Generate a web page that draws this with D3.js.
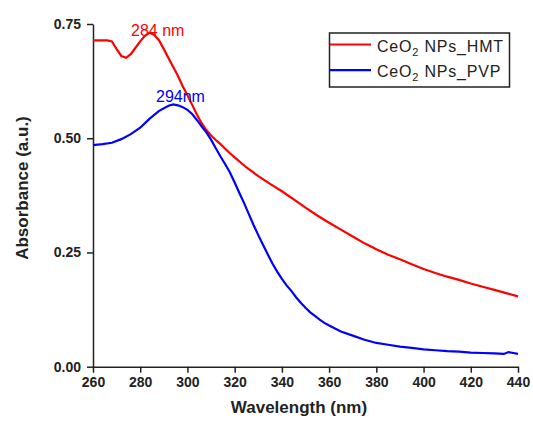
<!DOCTYPE html>
<html>
<head>
<meta charset="utf-8">
<script src="https://cdn.jsdelivr.net/npm/d3@7"></script>
<style>
  body { margin: 0; background: #fff; }
  svg { font-family: Arial, "Liberation Sans", sans-serif; }
</style>
</head>
<body>
<svg width="533" height="425"></svg>
<script>
// wavelengths (nm) and absorbance
let hmtWave = [260,262,264,266,268,270,272,274,276,278,280,282,284,286,288,290,292,294,296,298,
  300,302,304,306,308,310,312,314,316,318,320,325,330,335,340,345,350,355,360,365,370,375,
  380,385,390,395,400,405,410,415,420,425,430,435,440];
let hmtAbs = [0.714,0.714,0.714,0.714,0.712,0.695,0.680,0.676,0.684,0.698,0.712,0.724,0.731,0.726,0.714,0.695,0.675,0.656,0.636,0.614,
  0.594,0.573,0.552,0.533,0.518,0.506,0.496,0.487,0.477,0.467,0.458,0.436,0.417,0.400,0.384,0.366,0.348,0.331,0.315,0.300,0.285,0.270,
  0.257,0.245,0.235,0.224,0.214,0.205,0.197,0.190,0.182,0.175,0.168,0.161,0.154];

let pvpWave = [260,264,268,272,276,280,284,288,292,294,296,298,300,302,304,306,308,310,312,314,316,318,
  320,322,324,326,328,330,332,334,336,338,340,342,344,346,348,350,352,354,356,358,360,365,370,375,
  380,385,390,395,400,405,410,415,420,425,430,434,436,438,440];
let pvpAbs = [0.485,0.487,0.490,0.498,0.509,0.523,0.543,0.560,0.571,0.574,0.572,0.568,0.562,0.553,0.540,0.526,0.513,0.497,0.478,0.460,0.443,0.425,
  0.403,0.380,0.358,0.334,0.310,0.288,0.267,0.246,0.226,0.208,0.192,0.178,0.166,0.152,0.140,0.129,0.119,0.111,0.103,0.096,0.090,0.077,0.068,0.059,
  0.052,0.048,0.044,0.041,0.038,0.036,0.034,0.033,0.031,0.030,0.029,0.028,0.032,0.030,0.028];

let xTicks = [260,280,300,320,340,360,380,400,420,440];
let yTicks = [0, 0.25, 0.5, 0.75];

let svg = d3.select("svg");
let plotLeft = 93, plotRight = 518, plotTop = 24, plotBottom = 366.7;

let x = d3.scaleLinear().domain([260, 440]).range([plotLeft, plotRight]);
let y = d3.scaleLinear().domain([0, 0.75]).range([plotBottom, plotTop]);

let xAxis = svg.append("g")
  .attr("transform", "translate(0," + plotBottom + ")")
  .call(d3.axisBottom(x).tickValues(xTicks).tickSize(6).tickSizeOuter(0).tickPadding(4));

let yAxis = svg.append("g")
  .attr("transform", "translate(" + plotLeft + ",0)")
  .call(d3.axisLeft(y).tickValues(yTicks).tickFormat(d3.format(".2f")).tickSize(6).tickSizeOuter(0).tickPadding(6));

[xAxis, yAxis].forEach(a => {
  a.select(".domain").attr("stroke", "#222").attr("stroke-width", 1.5);
  a.selectAll(".tick line").attr("stroke", "#222").attr("stroke-width", 1.5);
  a.selectAll(".tick text")
    .attr("fill", "#222")
    .style("font-size", "14px")
    .style("font-weight", "bold")
    .style("font-family", "Arial, 'Liberation Sans', sans-serif");
});

let line = d3.line()
  .x(d => x(d[0]))
  .y(d => y(d[1]));

svg.append("path")
  .datum(hmtWave.map((w, i) => [w, hmtAbs[i]]))
  .attr("fill", "none")
  .attr("stroke", "#ff0000")
  .attr("stroke-width", 2.2)
  .attr("d", line);

svg.append("path")
  .datum(pvpWave.map((w, i) => [w, pvpAbs[i]]))
  .attr("fill", "none")
  .attr("stroke", "#0000ff")
  .attr("stroke-width", 2.2)
  .attr("d", line);

// peak labels
svg.append("text")
  .attr("x", 131).attr("y", 36)
  .attr("fill", "#ff0000")
  .style("font-size", "16px")
  .text("284 nm");

svg.append("text")
  .attr("x", 156).attr("y", 102)
  .attr("fill", "#0000ff")
  .style("font-size", "16px")
  .text("294nm");

// axis titles
svg.append("text")
  .attr("x", 299).attr("y", 413)
  .attr("text-anchor", "middle")
  .attr("fill", "#222")
  .style("font-size", "17px")
  .style("font-weight", "bold")
  .text("Wavelength (nm)");

svg.append("text")
  .attr("transform", "translate(28,188) rotate(-90)")
  .attr("text-anchor", "middle")
  .attr("fill", "#222")
  .style("font-size", "17px")
  .style("font-weight", "bold")
  .text("Absorbance (a.u.)");

// legend
let legend = svg.append("g");
legend.append("rect")
  .attr("x", 329.5).attr("y", 33)
  .attr("width", 180).attr("height", 54)
  .attr("fill", "#fff")
  .attr("stroke", "#222")
  .attr("stroke-width", 1.5);

let legendItems = [
  {name: "NPs_HMT", color: "#ff0000"},
  {name: "NPs_PVP", color: "#0000ff"}
];

legendItems.forEach((d, i) => {
  let ly = 44.5 + i * 25.7;
  legend.append("line")
    .attr("x1", 330).attr("x2", 371)
    .attr("y1", ly).attr("y2", ly)
    .attr("stroke", d.color)
    .attr("stroke-width", 2.2);
  let t = legend.append("text")
    .attr("x", 377).attr("y", ly + 7)
    .attr("fill", "#222")
    .style("font-size", "16px")
    .style("letter-spacing", "0.8px");
  t.append("tspan").text("CeO");
  t.append("tspan").attr("dy", 4).style("font-size", "11px").text("2");
  t.append("tspan").attr("dy", -4).text(" " + d.name);
});
</script>
</body>
</html>
